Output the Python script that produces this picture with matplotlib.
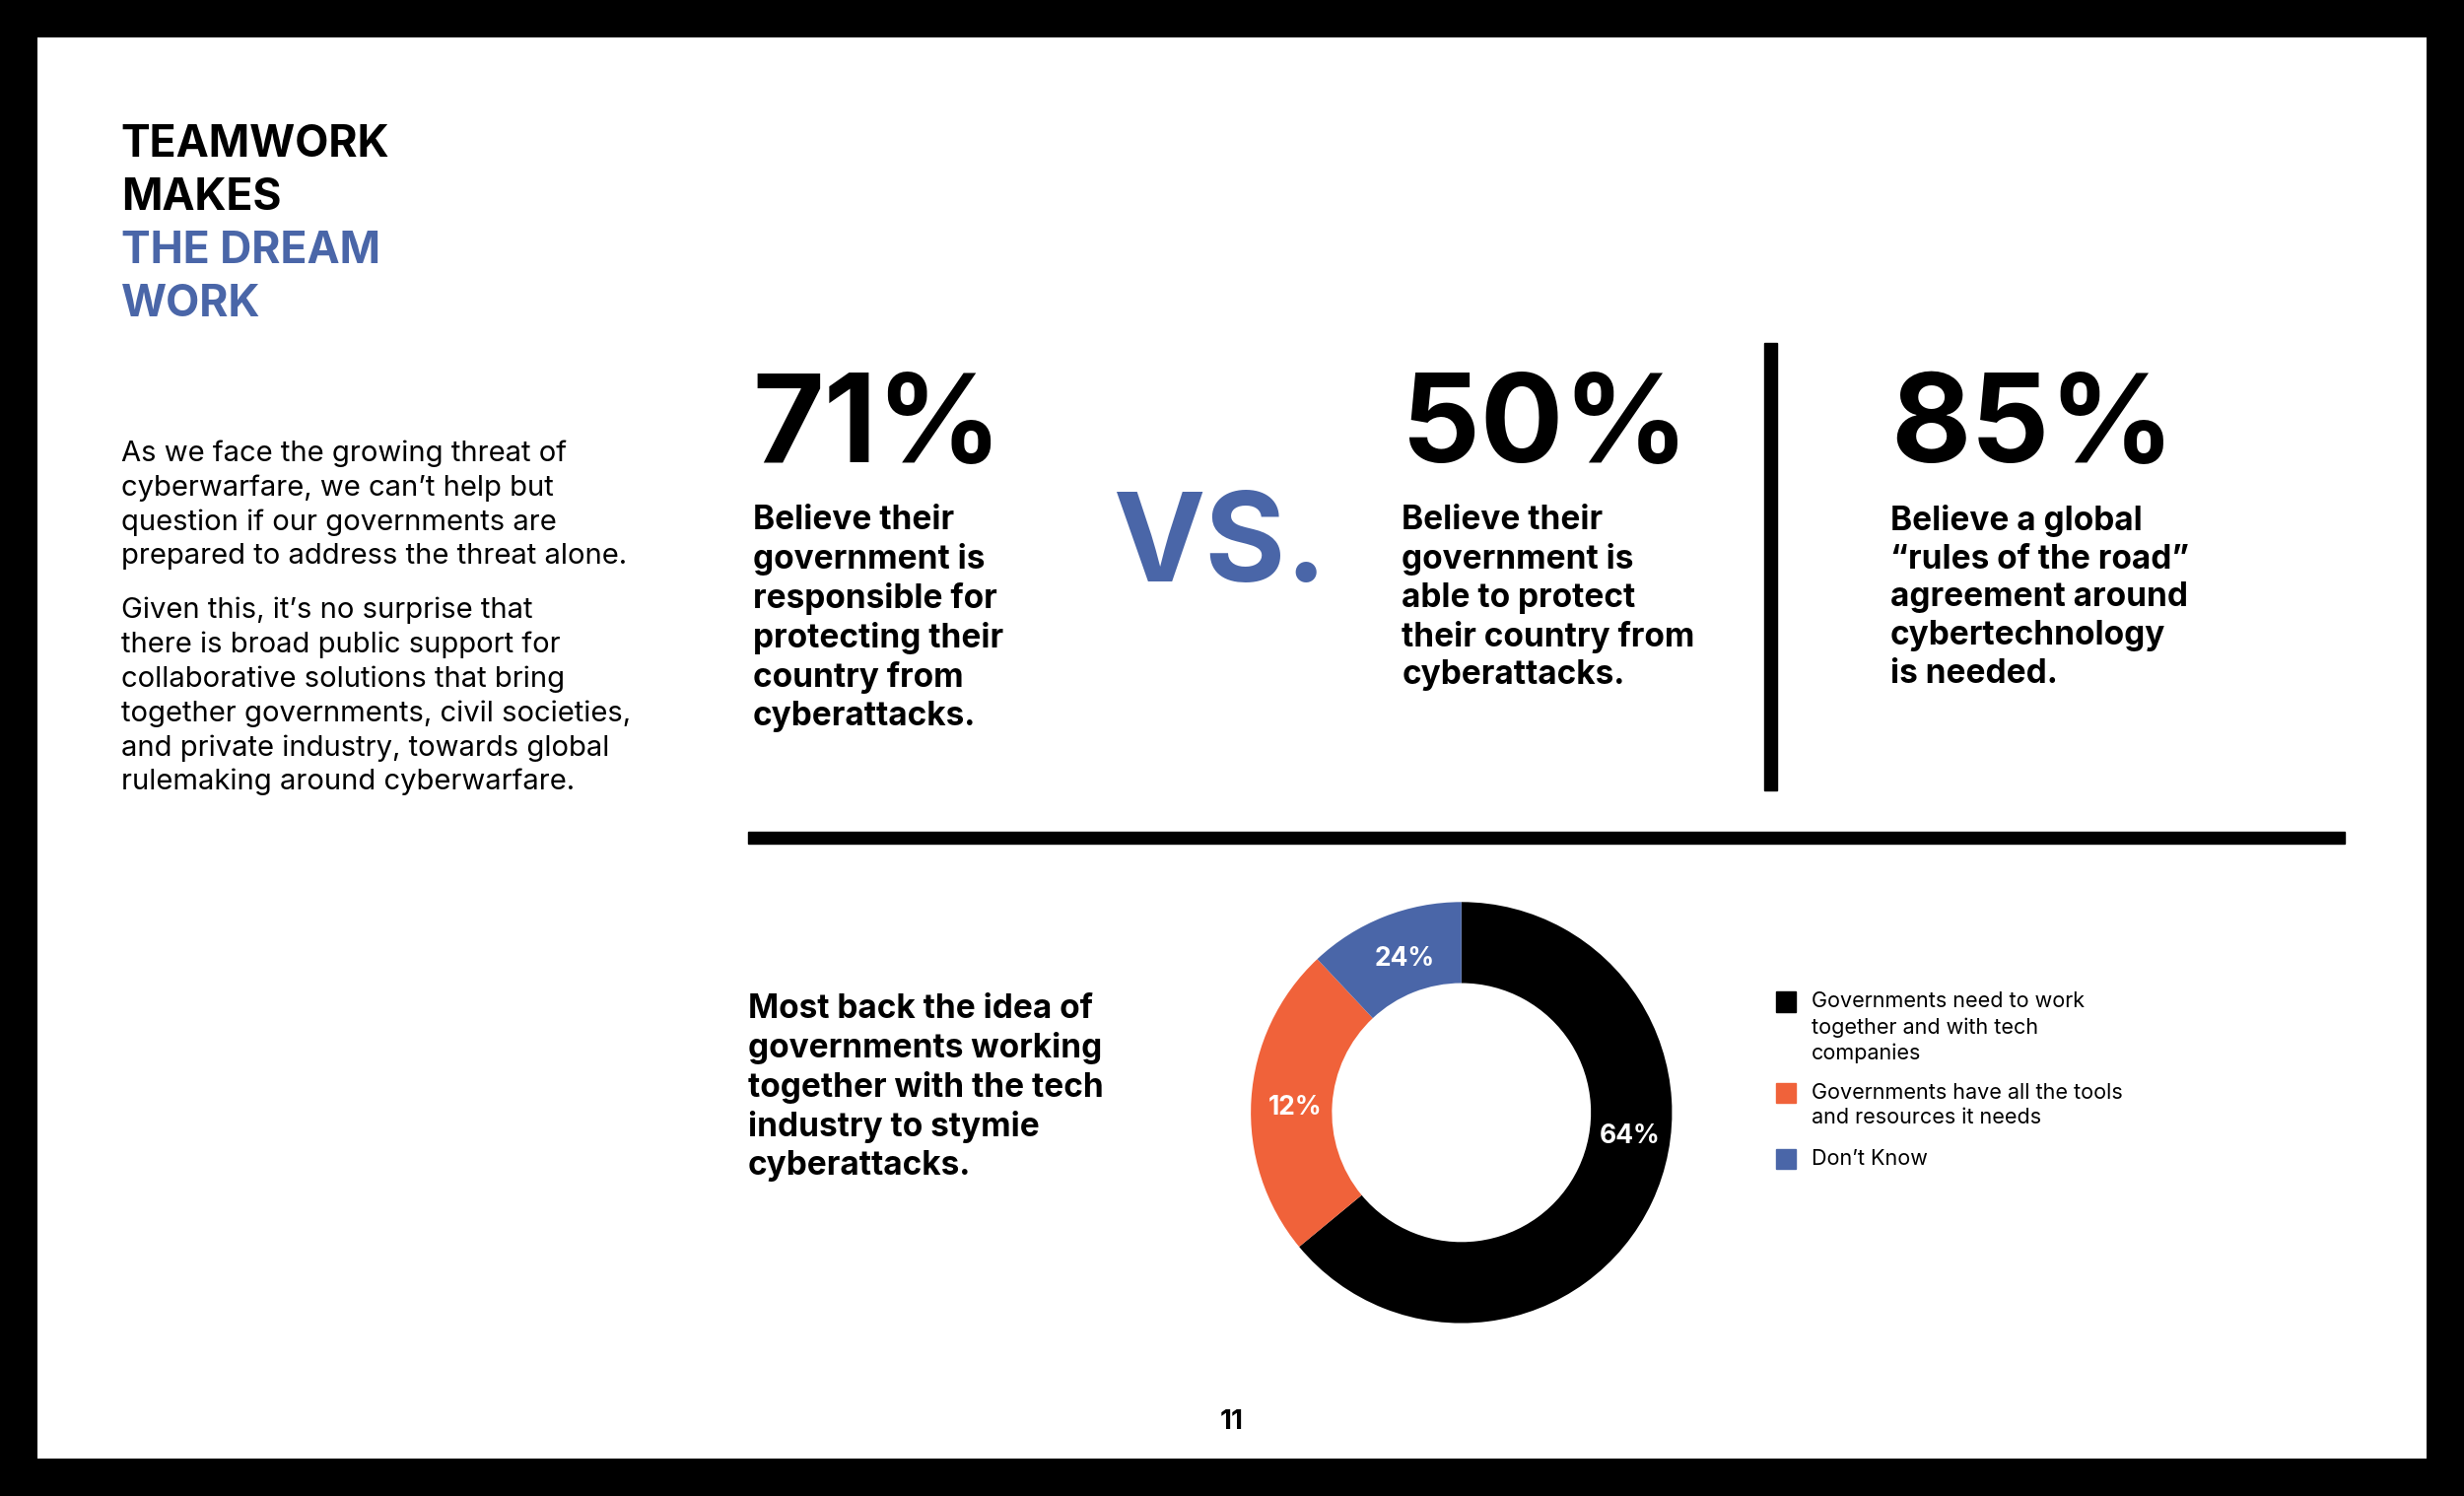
import matplotlib
matplotlib.use("Agg")
import matplotlib.pyplot as plt
from matplotlib.patches import Rectangle

W, H = 1568, 952
FONT = "Inter"
BLUE = "#4a66a8"; ORANGE = "#f0623a"; BLACK = "#000000"

stats = ["71%", "50%", "85%"]
stat_texts = ["Believe their\ngovernment is\nresponsible for\nprotecting their\ncountry from\ncyberattacks.",
              "Believe their\ngovernment is\nable to protect\ntheir country from\ncyberattacks.",
              "Believe a global\n\u201crules of the road\u201d\nagreement around\ncybertechnology\nis needed."]
donut_sizes = [64, 24, 12]
donut_labels = ["64%", "12%", "24%"]
donut_colors = [BLACK, ORANGE, BLUE]
legend_items = ["Governments need to work\ntogether and with tech\ncompanies",
                "Governments have all the tools\nand resources it needs",
                "Don\u2019t Know"]
legend_colors = [BLACK, ORANGE, BLUE]

fig = plt.figure(figsize=(25, 15.18), dpi=100)
fig.patch.set_facecolor("black")

def fx(x): return x / W
def fy(y): return 1 - y / H

bg = fig.add_axes([fx(24), fy(928), fx(1544) - fx(24), fy(24) - fy(928)])
bg.set_facecolor("white"); bg.set_xticks([]); bg.set_yticks([])
for s in bg.spines.values(): s.set_visible(False)

def T(x, y, s, size, color=BLACK, weight="normal", va="top", ha="left", ls=1.2):
    fig.text(fx(x), fy(y), s, fontsize=size, color=color, weight=weight,
             va=va, ha=ha, family=FONT, linespacing=ls)

T(77, 79, "TEAMWORK\nMAKES", 32, weight="bold", ls=1.36)
T(77, 147, "THE DREAM\nWORK", 32, color=BLUE, weight="bold", ls=1.36)
T(77, 280, "As we face the growing threat of\ncyberwarfare, we can\u2019t help but\nquestion if our governments are\nprepared to address the threat alone.", 21, ls=1.34)
T(77, 380, "Given this, it\u2019s no surprise that\nthere is broad public support for\ncollaborative solutions that bring\ntogether governments, civil societies,\nand private industry, towards global\nrulemaking around cyberwarfare.", 21, ls=1.34)

for x, s, t in zip([479, 892, 1203], stats, stat_texts):
    T(x, 294, s, 90, weight="bold", va="baseline")
    T(x, 321, t, 24, weight="bold", ls=1.27)
T(708, 370, "VS.", 90, color=BLUE, weight="bold", va="baseline")

fig.add_artist(Rectangle((fx(1123), fy(503)), fx(8), fy(218) - fy(503), transform=fig.transFigure, color=BLACK))
fig.add_artist(Rectangle((fx(476), fy(537)), fx(1492) - fx(476), fy(529) - fy(537), transform=fig.transFigure, color=BLACK))

T(476, 632, "Most back the idea of\ngovernments working\ntogether with the tech\nindustry to stymie\ncyberattacks.", 24, weight="bold", ls=1.27)

cx, cy, r = 930, 708, 134
ax = fig.add_axes([fx(cx - r), fy(cy + r), fx(2 * r), fy(cy - r) - fy(cy + r)])
ax.pie(donut_sizes, colors=donut_colors, startangle=90, counterclock=False,
       wedgeprops=dict(width=0.385, linewidth=0), radius=1)
ax.set_aspect("equal"); ax.set_xlim(-1, 1); ax.set_ylim(-1, 1)
for (x, y), lab in zip([(1037, 723), (824, 705), (894, 610)], donut_labels):
    T(x, y, lab, 19, color="white", weight="bold", va="center", ha="center")

for (y, s, c) in zip([631, 689, 731], legend_items, legend_colors):
    fig.add_artist(Rectangle((fx(1130), fy(y + 13)), fx(13), fy(y) - fy(y + 13), transform=fig.transFigure, color=c))
    T(1153, y, s, 15.5, ls=1.36)

T(784, 905, "11", 20, weight="bold", va="center", ha="center")

fig.savefig("out.png", dpi=100, facecolor=fig.get_facecolor())
